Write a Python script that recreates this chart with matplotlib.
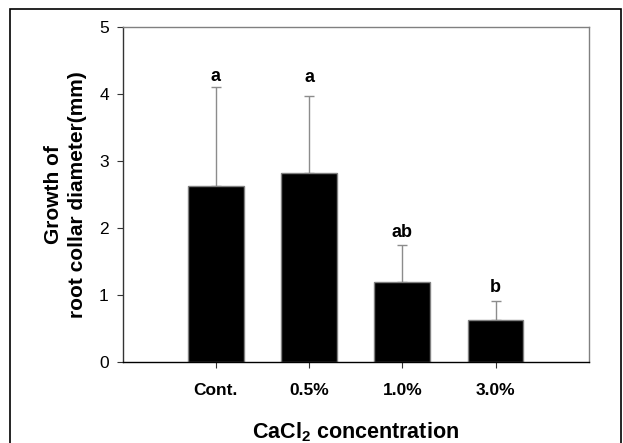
import matplotlib
matplotlib.use('Agg')
import matplotlib.pyplot as plt
import numpy as np
from matplotlib.patches import Rectangle

plt.rcParams['font.family'] = ['Liberation Sans', 'DejaVu Sans']
plt.rcParams['mathtext.fontset'] = 'custom'
plt.rcParams['mathtext.rm'] = 'Liberation Sans:bold'
plt.rcParams['mathtext.bf'] = 'Liberation Sans:bold'

# data
groups = ['Cont.', '0.5%', '1.0%', '3.0%']
means = [2.62, 2.81, 1.19, 0.63]
errs = [1.48, 1.16, 0.555, 0.285]
letters = ['a', 'a', 'ab', 'b']
letter_y = [4.19, 4.17, 1.86, 1.04]

x = np.arange(1, len(groups) + 1)

fig = plt.figure(figsize=(6.23, 4.43), dpi=100)
ax = fig.add_axes([0.197, 0.183, 0.748, 0.757])

ax.bar(x, means, width=0.6, color='black', edgecolor='#808080', linewidth=1, zorder=2)
ax.errorbar(x, means, yerr=[np.zeros(len(errs)), errs], fmt='none',
            ecolor='#8c8c8c', elinewidth=1, capsize=3.5, capthick=1, zorder=1)

for xi, lab, ly in zip(x, letters, letter_y):
    ax.text(xi, ly, lab, ha='center', va='baseline', fontsize=13, fontweight='bold')

ax.set_xlim(0, 5)
ax.set_ylim(0, 5)
ax.set_yticks([0, 1, 2, 3, 4, 5])
ax.set_xticks(x)
ax.set_xticklabels(groups, fontsize=12.5, fontweight='bold')
ax.tick_params(axis='y', labelsize=12.5, length=4, pad=6, color='#333333')
ax.tick_params(axis='x', length=4, pad=11, color='#333333')

ax.spines['left'].set_color('#333333')
ax.spines['bottom'].set_color('black')
ax.spines['top'].set_color('#808080')
ax.spines['right'].set_color('#808080')
for s in ax.spines.values():
    s.set_linewidth(1)

ax.set_ylabel('Growth of\nroot collar diameter(mm)', fontsize=15, fontweight='bold',
              linespacing=1.3, labelpad=9)
ax.set_xlabel(r'CaCl$_\mathrm{2}$ concentration', fontsize=15.5, fontweight='bold', labelpad=16.5)

# outer frame around the figure
fig.patches.append(Rectangle((10 / 623, -0.05), 611 / 623, 1.05 - 9 / 443,
                             transform=fig.transFigure, fill=False,
                             edgecolor='black', linewidth=1.2))

fig.savefig('out.png', dpi=100)
